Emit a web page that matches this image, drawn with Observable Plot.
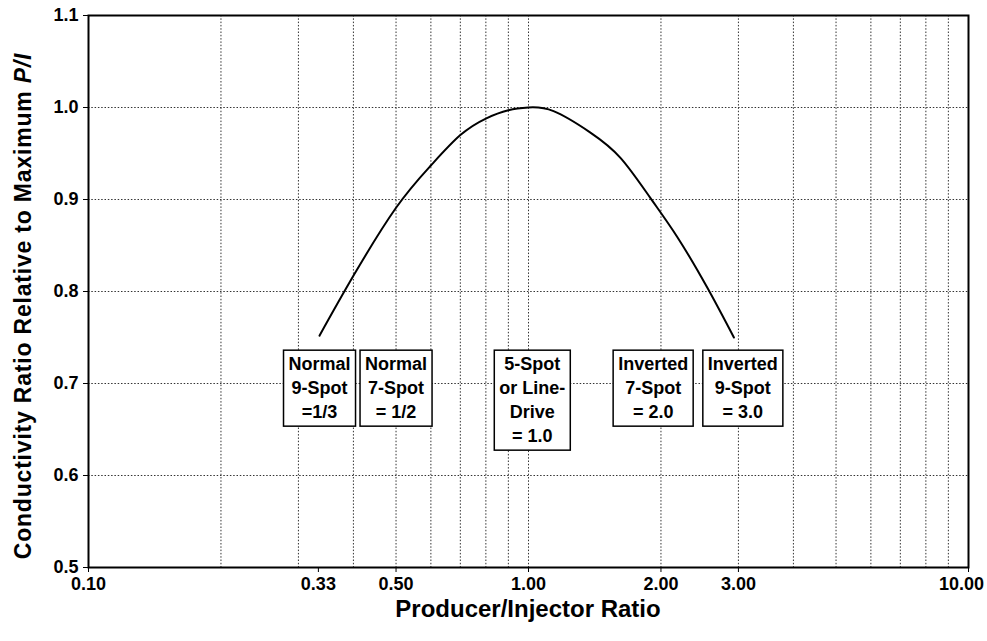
<!DOCTYPE html>
<html>
<head>
<meta charset="utf-8">
<script src="https://cdn.jsdelivr.net/npm/d3@7"></script>
<script src="https://cdn.jsdelivr.net/npm/@observablehq/plot@0.6"></script>
<style>
  body { margin: 0; background: #fff; }
  #chart svg { display: block; }
  #chart svg g[aria-label="x-axis tick label"],
  #chart svg g[aria-label="y-axis tick label"] {
    font-size: 18px !important;
    font-weight: bold;
    font-family: 'Liberation Sans', Arial, Helvetica, sans-serif;
  }
</style>
</head>
<body>
<div id="chart"></div>
<script>
// ---- Data ----
const ratio        = [0.335, 0.40, 0.50, 0.60, 0.70, 0.80, 0.90, 1.00, 1.14, 1.38, 1.62, 1.89, 2.18, 2.55, 2.93];
const conductivity = [0.752, 0.817, 0.891, 0.937, 0.970, 0.988, 0.997, 1.000, 0.996, 0.973, 0.945, 0.902, 0.859, 0.804, 0.750];

const xTicks      = [0.1, 0.333, 0.5, 1, 2, 3, 10];
const xTickLabels = ["0.10", "0.33", "0.50", "1.00", "2.00", "3.00", "10.00"];
const yTicks      = [0.5, 0.6, 0.7, 0.8, 0.9, 1.0, 1.1];
const xGrid       = [0.2, 0.3, 0.4, 0.5, 0.6, 0.7, 0.8, 0.9, 1, 2, 3, 4, 5, 6, 7, 8, 9];
const yGrid       = [0.6, 0.7, 0.8, 0.9, 1.0];

const patternLabels = [
  "Normal\n9-Spot\n=1/3",
  "Normal\n7-Spot\n= 1/2",
  "5-Spot\nor Line-\nDrive\n= 1.0",
  "Inverted\n7-Spot\n= 2.0",
  "Inverted\n9-Spot\n= 3.0"
];
const patternX = [0.335, 0.5, 1.02, 1.92, 3.07];
const patternY = [0.733, 0.733, 0.733, 0.733, 0.733];

const xTitle = "Producer/Injector Ratio";
const yTitleMain = "Conductivity Ratio Relative to Maximum ";
const yTitleItalic = "P/I";

// ---- Chart ----
const FONT = "'Liberation Sans', Arial, Helvetica, sans-serif";
const W = 987, H = 641;
const M = {top: 15, right: 19, bottom: 74, left: 88};

const curve = ratio.map((x, i) => ({x, y: conductivity[i]}));
const labels = patternLabels.map((t, i) => ({t, x: patternX[i], y: patternY[i]}));

const chart = Plot.plot({
  width: W,
  height: H,
  marginTop: M.top,
  marginRight: M.right,
  marginBottom: M.bottom,
  marginLeft: M.left,
  style: {fontFamily: FONT, fontWeight: "bold", fontSize: "18px", background: "white", color: "black"},
  x: {
    type: "log",
    domain: [0.1, 10],
    ticks: xTicks,
    tickFormat: d => xTickLabels[xTicks.indexOf(d)],
    tickSize: 5,
    tickPadding: 5,
    label: null
  },
  y: {
    domain: [0.5, 1.1],
    ticks: yTicks,
    tickFormat: d3.format(".1f"),
    tickSize: 5,
    tickPadding: 5,
    label: null
  },
  marks: [
    Plot.ruleX(xGrid, {stroke: "#333", strokeWidth: 1, strokeDasharray: "1.5,1.8"}),
    Plot.ruleY(yGrid, {stroke: "#333", strokeWidth: 1, strokeDasharray: "1.5,1.8"}),
    Plot.frame({stroke: "black", strokeWidth: 2}),
    Plot.line(curve, {x: "x", y: "y", curve: "natural", stroke: "black", strokeWidth: 2}),
    Plot.text(labels, {
      x: "x", y: "y", text: "t",
      lineAnchor: "top", lineHeight: 1.333,
      fontSize: 18, fontWeight: "bold", fill: "black", fontFamily: FONT
    })
  ]
});

document.getElementById("chart").append(chart);

// keep the last x tick label inside the picture
chart.querySelectorAll('g[aria-label="x-axis tick label"] text').forEach(t => {
  if (t.textContent === xTickLabels[xTickLabels.length - 1]) t.setAttribute("dx", -7);
});

// ---- Boxes around the pattern labels ----
const svgNS = "http://www.w3.org/2000/svg";
chart.querySelectorAll('g[aria-label="text"] > text').forEach(t => {
  const bb = t.getBBox();
  const padX = 5, padY = 4;
  const r = document.createElementNS(svgNS, "rect");
  r.setAttribute("x", bb.x - padX);
  r.setAttribute("y", bb.y - padY);
  r.setAttribute("width", bb.width + 2 * padX);
  r.setAttribute("height", bb.height + 2 * padY);
  r.setAttribute("fill", "white");
  r.setAttribute("stroke", "black");
  r.setAttribute("stroke-width", 1.5);
  if (t.getAttribute("transform")) r.setAttribute("transform", t.getAttribute("transform"));
  t.parentNode.insertBefore(r, t);
});

// ---- Axis titles ----
const svg = d3.select(chart);
const cx = M.left + (W - M.left - M.right) / 2;
const cy = M.top + (H - M.top - M.bottom) / 2;

svg.append("text")
  .attr("x", cx)
  .attr("y", H - 24)
  .attr("text-anchor", "middle")
  .style("font-family", FONT)
  .style("font-weight", "bold")
  .style("font-size", "24px")
  .text(xTitle);

const yt = svg.append("text")
  .attr("transform", `translate(31,${cy + 15}) rotate(-90)`)
  .attr("text-anchor", "middle")
  .style("font-family", FONT)
  .style("font-weight", "bold")
  .style("font-size", "23px")
  .style("letter-spacing", "0.8px");
yt.append("tspan").text(yTitleMain);
yt.append("tspan").style("font-style", "italic").text(yTitleItalic);
</script>
</body>
</html>
